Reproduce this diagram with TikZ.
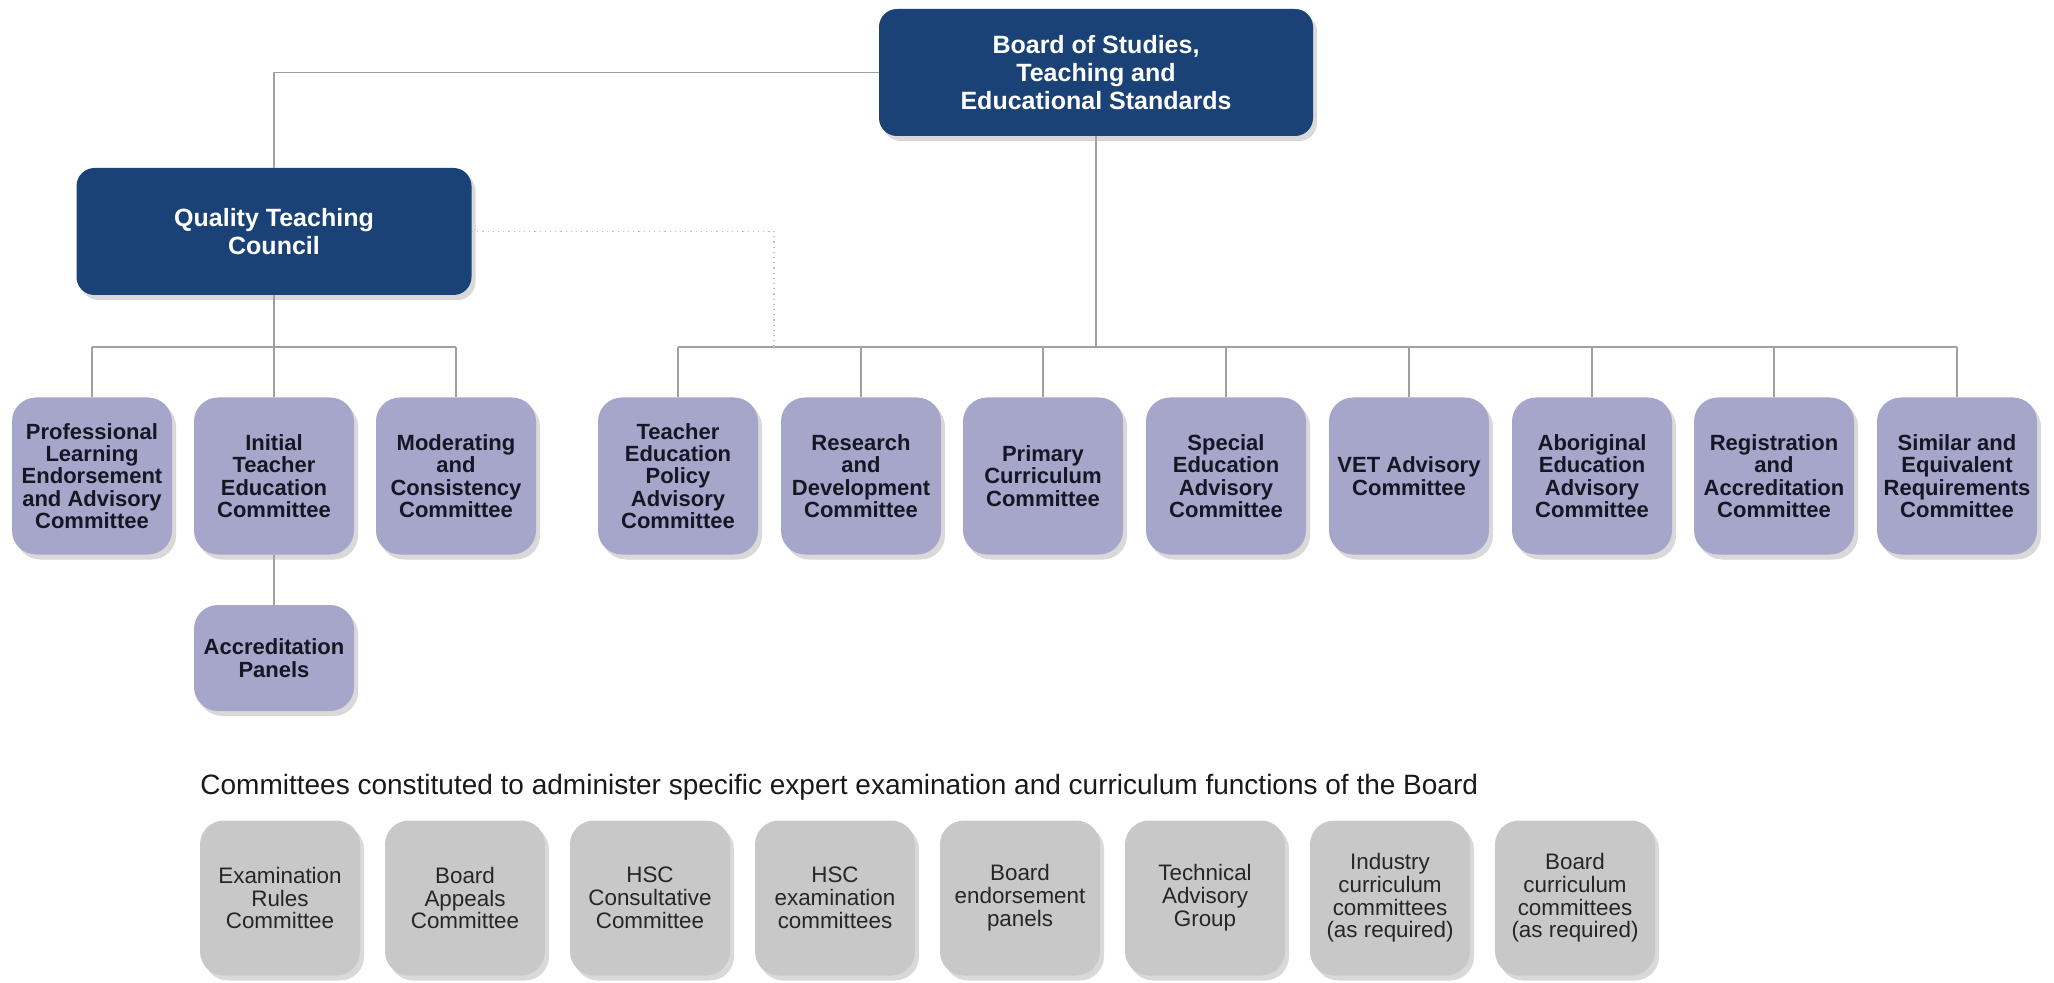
\documentclass[tikz,border=0pt]{standalone}
\usepackage{fontspec}
\setmainfont{Liberation Sans}
\usepackage{tikz}
\usetikzlibrary{shadows}
\usetikzlibrary{positioning}
\usepackage{xcolor}

\definecolor{navy}{RGB}{26,66,118}
\definecolor{lavender}{RGB}{165,166,202}
\definecolor{panelgrey}{RGB}{200,200,200}
\definecolor{linegrey}{RGB}{160,160,160}
\definecolor{inkdark}{RGB}{22,22,36}

\tikzset{
    boardbox/.style={fill=navy, rounded corners=9pt, text=white, align=center,
        font={\fontsize{12.5}{13.8}\selectfont\bfseries},
        drop shadow={shadow xshift=2pt, shadow yshift=-2.5pt, opacity=0.3}},
    childbox/.style={fill=lavender, rounded corners=12pt, text=inkdark, align=center,
        minimum width=80pt, minimum height=78.5pt, inner sep=1pt,
        font={\fontsize{11}{11.2}\selectfont\bfseries},
        drop shadow={shadow xshift=2pt, shadow yshift=-2.5pt, opacity=0.3}},
    panelbox/.style={fill=panelgrey, rounded corners=12pt, text=black!85, align=center,
        minimum width=80pt, minimum height=77.5pt, inner sep=1pt,
        font={\fontsize{11.2}{11.4}\selectfont},
        drop shadow={shadow xshift=2pt, shadow yshift=-2.5pt, opacity=0.3}},
    link/.style={draw=linegrey, line width=0.8pt},
    dotlink/.style={draw=linegrey!70, line width=0.6pt, dotted}
}

\begin{document}
\begin{tikzpicture}[x=0.5pt, y=-0.5pt]
            \useasboundingbox (0,0) rectangle (2054,983);

            % Board and council
            \node[boardbox, minimum width=217pt, minimum height=63.5pt] (board) at (1096,72.5) {Board of Studies,\\Teaching and\\Educational Standards};
            \node[boardbox, minimum width=197.5pt, minimum height=63.5pt] (qtc) at (274,231.5) {Quality Teaching\\Council};

            % Council committees
            \node[childbox] (pled) at (92,476) {Professional\\Learning\\Endorsement\\and Advisory\\Committee};
            \node[childbox] (itec) at (274,476) {Initial\\Teacher\\Education\\Committee};
            \node[childbox] (mcc) at (456,476) {Moderating\\and\\Consistency\\Committee};
            \node[childbox, minimum height=53pt] (ap) at (274,658) {Accreditation\\Panels};

            % Board committees
            \node[childbox] (tepa) at (678,476) {Teacher\\Education\\Policy\\Advisory\\Committee};
            \node[childbox] (rdc) at (861,476) {Research\\and\\Development\\Committee};
            \node[childbox] (pcc) at (1043,476) {Primary\\Curriculum\\Committee};
            \node[childbox] (seac) at (1226,476) {Special\\Education\\Advisory\\Committee};
            \node[childbox] (vet) at (1409,476) {VET Advisory\\Committee};
            \node[childbox] (aeac) at (1592,476) {Aboriginal\\Education\\Advisory\\Committee};
            \node[childbox] (rac) at (1774,476) {Registration\\and\\Accreditation\\Committee};
            \node[childbox] (serc) at (1957,476) {Similar and\\Equivalent\\Requirements\\Committee};

            % Expert committees
            \node[anchor=west, font=\fontsize{14}{16}\selectfont, text=black!90, inner sep=0pt] (note) at (200,787) {Committees constituted to administer specific expert examination and curriculum functions of the Board};
            \node[panelbox] (erc) at (280,898) {Examination\\Rules\\Committee};
            \node[panelbox] (bac) at (465,898) {Board\\Appeals\\Committee};
            \node[panelbox] (hscc) at (650,898) {HSC\\Consultative\\Committee};
            \node[panelbox] (hsce) at (835,898) {HSC\\examination\\committees};
            \node[panelbox] (bep) at (1020,898) {Board\\endorsement\\panels};
            \node[panelbox] (tag) at (1205,898) {Technical\\Advisory\\Group};
            \node[panelbox] (icc) at (1390,898) {Industry\\curriculum\\committees\\(as required)};
            \node[panelbox] (bcc) at (1575,898) {Board\\curriculum\\committees\\(as required)};

            % Connectors
            \coordinate (bbus) at (1096,347);
            \coordinate (qbus) at (274,347);
            \coordinate (qlink) at (774,347);

            \draw[link] (board.west) -| (qtc.north);
            \draw[link] (board.south) -- (bbus);
            \draw[link] (tepa.north |- bbus) -- (serc.north |- bbus);
            \draw[link] (tepa.north |- bbus) -- (tepa.north);
            \draw[link] (rdc.north |- bbus) -- (rdc.north);
            \draw[link] (pcc.north |- bbus) -- (pcc.north);
            \draw[link] (seac.north |- bbus) -- (seac.north);
            \draw[link] (vet.north |- bbus) -- (vet.north);
            \draw[link] (aeac.north |- bbus) -- (aeac.north);
            \draw[link] (rac.north |- bbus) -- (rac.north);
            \draw[link] (serc.north |- bbus) -- (serc.north);

            \draw[link] (qtc.south) -- (itec.north);
            \draw[link] (pled.north |- qbus) -- (mcc.north |- qbus);
            \draw[link] (pled.north |- qbus) -- (pled.north);
            \draw[link] (mcc.north |- qbus) -- (mcc.north);
            \draw[link] (itec.south) -- (ap.north);

            \draw[dotlink] (qtc.east) -| (qlink);
\end{tikzpicture}
\end{document}
